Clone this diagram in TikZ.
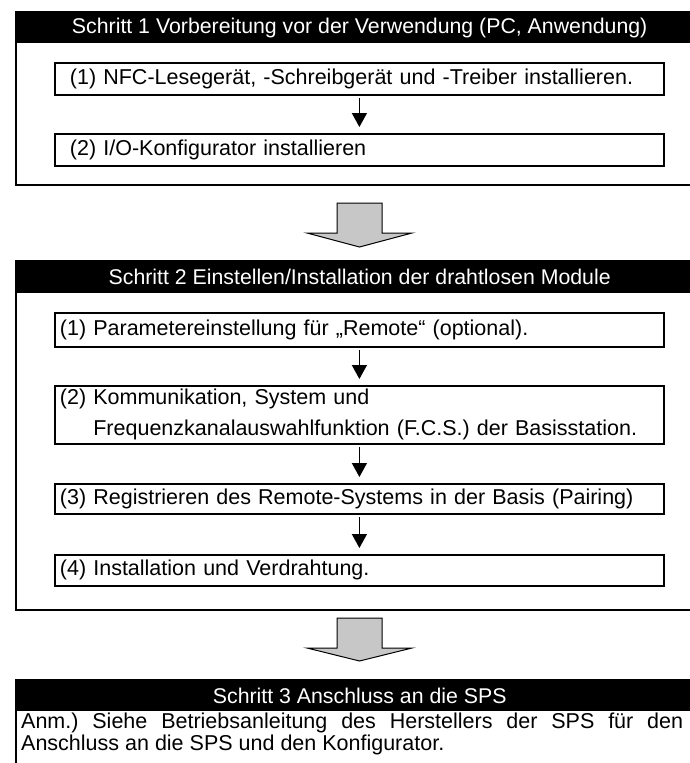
\documentclass[tikz,border=0pt]{standalone}
\usepackage{graphicx}
\usepackage{fontspec}
\setmainfont{Liberation Sans}
\usetikzlibrary{arrows.meta}
\frenchspacing
\begin{document}
\begin{tikzpicture}[x=1pt,y=-1pt,
  frame/.style={draw=black,line width=1.8pt},
  hdr/.style={fill=black,text=white,minimum width=687pt,anchor=north west,inner sep=0pt,font=\fontsize{21.3}{24}\selectfont},
  ibox/.style={draw=black,line width=1.8pt,minimum width=609pt,text width=599pt,inner xsep=5pt,inner ysep=0pt,anchor=north west,align=left,font=\fontsize{21.5}{31}\selectfont},
  sarrow/.style={line width=1.5pt,-{Triangle[width=15pt,length=14pt]},shorten <=2pt,shorten >=6pt},
  garrow/.style={draw=black,line width=1pt,fill=black!22,line join=miter},
  note/.style={anchor=north west,text width=662pt,inner xsep=5pt,inner ysep=2pt,align=justify,font=\fontsize{21.5}{21.5}\selectfont}
]
\useasboundingbox (0,0) rectangle (690,763);
\clip (0,0) rectangle (690,763);
\fill[white] (0,0) rectangle (690,763);

% Step 1
\node[hdr,minimum height=31pt] (h1) at (16,12) {Schritt 1 Vorbereitung vor der Verwendung (PC, Anwendung)};
\draw[frame] (16,12) rectangle (703,185);
\node[ibox,minimum height=32pt] (a1) at (54,62) {\hspace*{10pt}(1) NFC-Lesegerät, -Schreibgerät und -Treiber installieren.};
\node[ibox,minimum height=32pt] (a2) at (54,133) {\hspace*{10pt}(2) I/O-Konfigurator installieren};
\draw[sarrow] (a1.south) -- (a2.north);

% big arrow 1
\draw[garrow] (337,203) -- (382,203) -- (382,233) -- (412,233) -- (359.5,247) -- (307,233) -- (337,233) -- cycle;

% Step 2
\node[hdr,minimum height=32pt] (h2) at (16,261) {Schritt 2 Einstellen/Installation der drahtlosen Module};
\draw[frame] (16,261) rectangle (703,610);
\node[ibox,minimum height=34pt] (b1) at (54,312) {(1) Parametereinstellung für „Remote“ (optional).};
\node[ibox,minimum height=58pt] (b2) at (54,385) {(2) Kommunikation, System und\\\phantom{(2) }Frequenzkanalauswahlfunktion (F.C.S.) der Basisstation.};
\node[ibox,minimum height=30pt] (b3) at (54,483) {(3) Registrieren des Remote-Systems in der Basis (Pairing)};
\node[ibox,minimum height=31pt] (b4) at (54,554) {(4) Installation und Verdrahtung.};
\draw[sarrow] (b1.south) -- (b2.north);
\draw[sarrow] (b2.south) -- (b3.north);
\draw[sarrow] (b3.south) -- (b4.north);

% big arrow 2
\draw[garrow] (337,618) -- (382,618) -- (382,648) -- (412,648) -- (359.5,661) -- (307,648) -- (337,648) -- cycle;

% Step 3
\node[hdr,minimum height=31pt] (h3) at (16,680) {Schritt 3 Anschluss an die SPS};
\draw[frame] (16,680) rectangle (703,800);
\node[note] (n3) at (16,711) {Anm.) Siehe Betriebsanleitung des Herstellers der SPS für den \mbox{Anschluss} an die SPS und den Konfigurator.};
\end{tikzpicture}
\end{document}
